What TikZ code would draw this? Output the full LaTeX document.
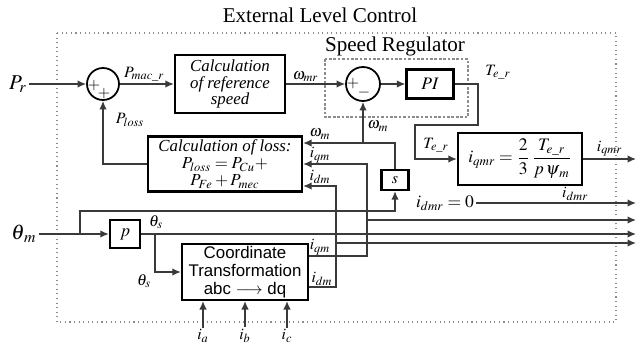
\documentclass[tikz,border=0pt]{standalone}
\usepackage{amsmath}
\usepackage{mathptmx}
\usepackage{fontspec}
\setmainfont{Liberation Serif}
\newfontfamily\arialfont{Liberation Sans}
\usetikzlibrary{arrows.meta, positioning, calc}
\definecolor{wire}{HTML}{3A3A3A}
\definecolor{frame}{HTML}{8C8C8C}
\tikzset{
  blk/.style={rectangle, draw=black, line width=1.3pt, align=center, inner sep=1pt,
              font=\fontsize{9.6}{9.6}\selectfont\itshape},
  sumnode/.style={circle, draw=black, line width=1pt, minimum size=0.64cm, inner sep=0pt},
  sig/.style={-{Latex[length=1.7mm,width=1.5mm]}, line width=0.8pt, draw=wire},
  lbl/.style={font=\small, inner sep=1pt},
  sgn/.style={font=\small, inner sep=0pt},
  region/.style={draw=frame, dotted, line width=0.6pt},
  regdash/.style={draw=frame, dashed, dash pattern=on 1.5pt off 1pt, line width=0.6pt},
  regtitle/.style={font=\large},
}

\begin{document}
\begin{tikzpicture}[x=0.02cm, y=-0.02cm]
\useasboundingbox (0,0) rectangle (642,345);

% Frames: whole controller and the speed regulator
\draw[region] (57,33) rectangle (616,322);
\draw[regdash] (325,59) rectangle (468,117);
\node[regtitle] (exttitle) at (320,15) {External Level Control};
\node[regtitle] (spdtitle) at (395,46) {Speed Regulator};

% Main path on y=84
\node[lbl, font=\large] (pr) at (18,84) {$P_r$};
\node[sumnode] (sum1) at (103,84) {};
\node[sgn] (s1a) at (94,86) {$+$};
\node[sgn] (s1b) at (104,94) {$+$};
\node[blk, minimum width=2.2cm, minimum height=1.16cm] (refspeed) at (230,84)
  {Calculation\\of reference\\speed};
\node[sumnode, minimum size=0.68cm] (sum2) at (363,84) {};
\node[sgn] (s2a) at (353,84) {$+$};
\node[sgn] (s2b) at (364,93) {$-$};
\node[blk, font=\normalsize, minimum width=0.94cm, minimum height=0.58cm] (pi) at (430,84) {$PI$};
\node[blk, font=\normalsize, minimum width=2.48cm, minimum height=1.04cm] (iqref) at (520,159)
  {$i_{qmr}=\dfrac{2}{3}\,\dfrac{T_{e\_r}}{p\,\psi_{\mkern2mu m}}$};

% Loss estimate and measured quantities
\node[blk, minimum width=3.08cm, minimum height=1.1cm] (loss) at (225,164)
  {Calculation of loss:\\$P_{loss}=P_{Cu}+$\\$P_{Fe}+P_{mec}$};
\node[blk, font=\small, minimum width=0.54cm, minimum height=0.4cm] (deriv) at (395,180) {$s$};
\node[blk, font=\normalsize, minimum width=0.6cm, minimum height=0.56cm] (pole) at (125,234) {$p$};
\node[blk, font=\fontsize{9.6}{10.4}\selectfont\arialfont, minimum width=2.52cm, minimum height=1.04cm]
  (coord) at (245,272) {Coordinate\\Transformation\\abc {\rmfamily$\longrightarrow$} dq};

\node[lbl, font=\large] (thm) at (24,234) {$\theta_{\mkern2mu m}$};
\node[lbl, font=\normalsize] (idmr0) at (445,203) {$i_{dmr}=0$};
\node[lbl] (ia) at (203,336) {$i_a$};
\node[lbl] (ib) at (245,336) {$i_b$};
\node[lbl] (ic) at (287,336) {$i_c$};

\coordinate (wm)    at (363,143);
\coordinate (thbr)  at (80,234);
\coordinate (thsbr) at (155,234);
\coordinate (iqmrout) at (636,159);
\coordinate (thsout)  at (636,234);
\coordinate (idmrout) at (636,203);

% Flow
\draw[sig] (pr.east) -- (sum1.west);
\draw[sig] (sum1.east) -- node[lbl, above, pos=0.45] (pmaclbl) {$P_{mac\_r}$} (refspeed.west);
\draw[sig] (refspeed.east) -- node[lbl, above, pos=0.33] (wmrlbl) {$\omega_{mr}$} (sum2.west);
\draw[sig] (sum2.east) -- (pi.west);
\draw[sig] (pi.east) -- (478,84) -- (478,125) -- (415,125) -- (415,159) -- (iqref.west);
\node[lbl] (terlbl1) at (498,72) {$T_{e\_r}$};
\node[lbl] (terlbl2) at (436,145) {$T_{e\_r}$};
\draw[sig] (iqref.east) -- node[lbl, above] (iqmrlbl) {$i_{qmr}$} (iqmrout);

% Loss feedback
\draw[sig] (loss.west) -| (sum1.south);
\node[lbl] (plosslbl) at (130,120) {$P_{loss}$};

% Speed from rotor angle
\draw[sig] (thm.east) -- (pole.west);
\draw[sig] (thbr) -- (80,211) -| (deriv.south);
\draw[sig] (deriv.north) |- ($(loss.east)+(0,-21)$);
\draw[sig] (wm) -- (sum2.south);
\node[lbl] (wmlbl1) at (320,134) {$\omega_m$};
\node[lbl] (wmlbl2) at (378,126) {$\omega_m$};

% Electrical angle
\draw[sig] (pole.east) -- (thsout);
\draw[sig] (thsbr) |- (coord.west);
\node[lbl] (thslbl1) at (156,222) {$\theta_s$};
\node[lbl] (thslbl2) at (144,281) {$\theta_s$};

% Currents
\draw[sig] ($(coord.east)+(0,-16)$) -| (367,164) -- (loss.east);
\draw[sig] (367,220) -- (636,220);
\draw[sig] ($(coord.east)+(0,15)$) -| (336,186) -- ($(loss.east)+(0,22)$);
\draw[sig] (336,243) -- (636,243);
\node[lbl] (iqmlbl1) at (320,155) {$i_{qm}$};
\node[lbl] (idmlbl1) at (320,177) {$i_{dm}$};
\node[lbl] (iqmlbl2) at (320,247) {$i_{qm}$};
\node[lbl] (idmlbl2) at (322,279) {$i_{dm}$};
\draw[sig] (idmr0.east) -- node[lbl, above, pos=0.62] (idmrlbl) {$i_{dmr}$} (idmrout);

\foreach \ph in {ia, ib, ic} {
  \draw[sig] (\ph.north) -- (\ph.north |- coord.south);
}

\end{tikzpicture}
\end{document}
